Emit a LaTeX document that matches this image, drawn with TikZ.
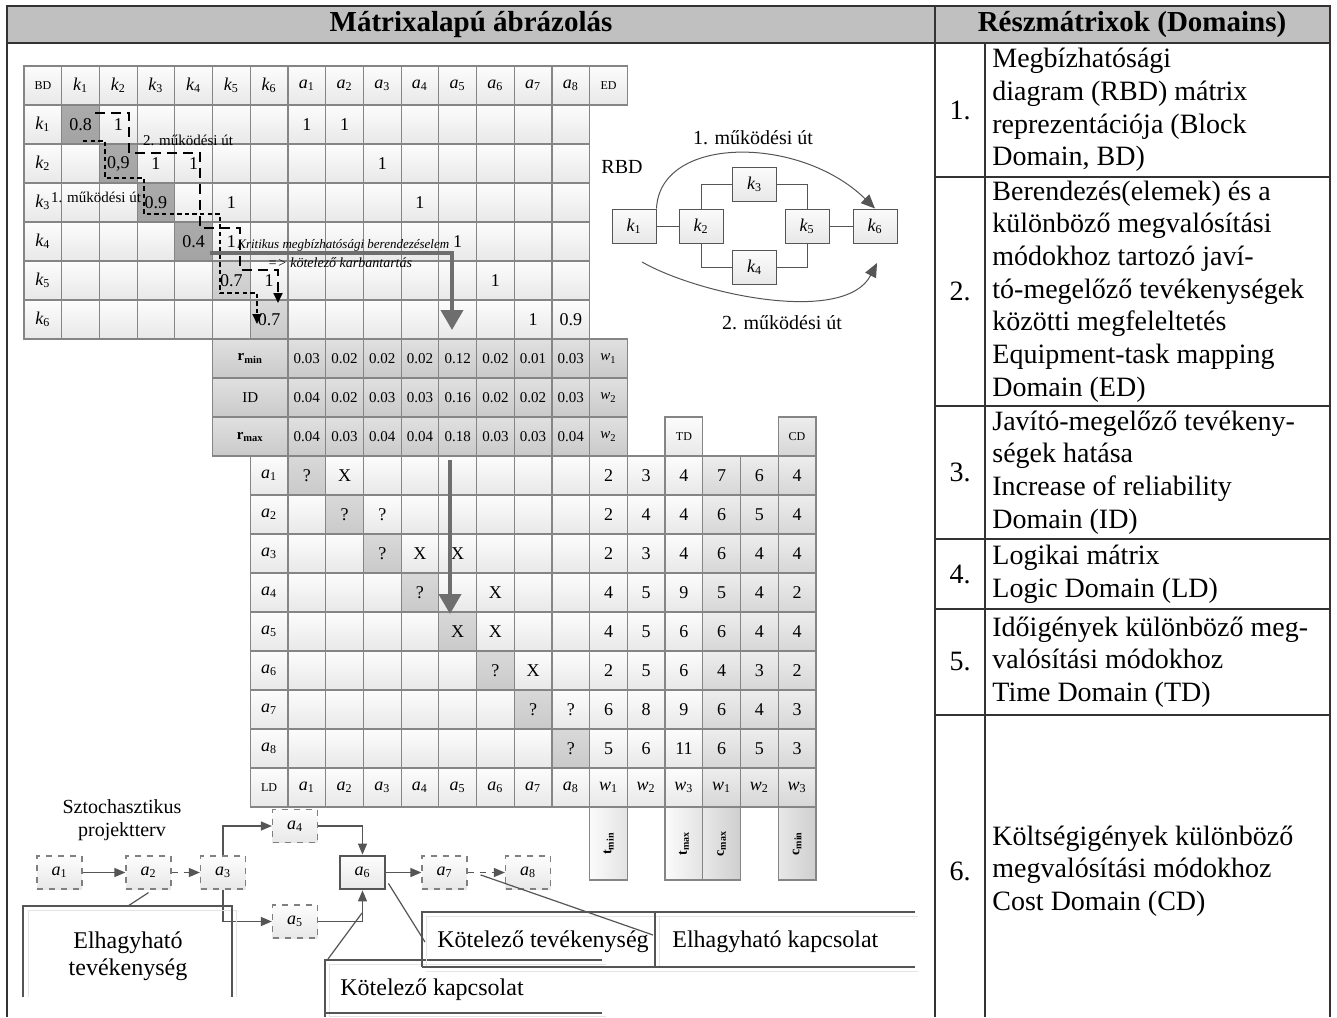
\documentclass[tikz,border=0pt]{standalone}
\usepackage{fontspec}
\setmainfont{Liberation Serif}
\usepackage{graphicx}
\usetikzlibrary{arrows.meta}
\definecolor{cellline}{HTML}{858585}
\definecolor{frameC}{HTML}{333333}
\definecolor{hdrC}{HTML}{C0C0C0}
\definecolor{bigarr}{HTML}{6E6E6E}
\definecolor{lineC}{HTML}{555555}
\definecolor{shadowC}{HTML}{E4E4E4}
\newcommand\Kk[1]{{\itshape k}\textsubscript{#1}}
\newcommand\Aa[1]{{\itshape a}\textsubscript{#1}}
\newcommand\Ww[1]{{\itshape w}\textsubscript{#1}}
\newcommand\C[4][]{\node[cell,#1] (m-#2-#3) at ({24+37.71*(#2+0.5)},{66+39*(#3+0.5)}) {#4};}
\tikzset{
  cstyle/.style={#1},
  cell/.style={draw=cellline, line width=0.6pt, minimum width=18.86pt, minimum height=19.5pt,
    inner sep=0pt, top color=gray!2, bottom color=gray!18, font=\fontsize{9}{10}\selectfont},
  cn/.style={},
  cd/.style={top color=gray!66, bottom color=gray!72},
  cl/.style={top color=gray!30, bottom color=gray!42},
  cg/.style={top color=gray!24, bottom color=gray!42},
  cc/.style={top color=gray!14, bottom color=gray!32},
  smallf/.style={font=\fontsize{7.5}{8}\selectfont},
  tinyf/.style={font=\fontsize{6}{7}\selectfont},
  stripT/.style={draw=cellline, line width=0.6pt, minimum width=18.86pt, minimum height=36.5pt,
    inner sep=0pt, left color=gray!3, right color=gray!22, font=\fontsize{7}{8}\selectfont},
  stripC/.style={stripT, left color=gray!18, right color=gray!38},
  frame/.style={draw=frameC, line width=1pt},
  rt/.style={anchor=west, inner sep=0pt, align=left, font=\fontsize{14}{16.35}\selectfont},
  rnum/.style={inner sep=0pt, font=\fontsize{14}{16.35}\selectfont},
  hdrtext/.style={inner sep=0pt, font=\bfseries\fontsize{14.5}{16}\selectfont},
  dpath1/.style={draw=black, line width=0.9pt, dash pattern=on 2.2pt off 1.6pt, -{Triangle[width=4.5pt,length=5pt]}},
  dpath2/.style={draw=black, line width=0.9pt, dash pattern=on 5pt off 3pt, -{Triangle[width=4.5pt,length=5pt]}},
  bigarrow/.style={draw=bigarr, line width=2pt, -{Triangle[width=11pt,length=10pt]}},
  rbdbox/.style={draw=lineC, line width=0.5pt, top color=gray!3, bottom color=gray!18,
    minimum width=22pt, minimum height=17pt, inner sep=0pt, font=\fontsize{9}{10}\selectfont},
  rbdline/.style={draw=lineC, line width=0.5pt},
  curvarr/.style={draw=lineC, line width=0.5pt, -{Triangle[width=6pt,length=7pt]}},
  lbl/.style={inner sep=0pt, font=\fontsize{10}{11}\selectfont},
  minilbl/.style={inner sep=0pt, font=\fontsize{7.5}{8}\selectfont},
  netbox/.style={draw=gray, dashed, line width=0.6pt, top color=gray!2, bottom color=gray!18,
    minimum width=22.5pt, minimum height=16.5pt, inner sep=0pt, font=\fontsize{9}{10}\selectfont},
  netmain/.style={netbox, solid, draw=lineC, line width=1.4pt},
  netarr/.style={draw=lineC, line width=0.6pt, -{Triangle[width=4.5pt,length=5.5pt]}},
  callout/.style={draw=lineC, line width=0.6pt},
  callshadow/.style={draw=shadowC, line width=0.5pt},
  calltext/.style={inner sep=0pt, font=\fontsize{12}{14}\selectfont},
}
\begin{document}
\begin{tikzpicture}[x=0.5pt,y=-0.5pt]
\useasboundingbox (0,0) rectangle (1337,1017);
\fill[white] (0,0) rectangle (1337,1017);
% ---------- frame ----------
\fill[hdrC] (7,6) rectangle (1330,43);
\draw[frame] (7,1017) -- (7,6) -- (1330,6) -- (1330,1017);
\draw[frame, line width=1.3pt] (7,43) -- (1330,43);
\draw[frame] (935,6) -- (935,1017);
\draw[frame] (985,43) -- (985,1017);
\foreach \yy in {177,406,539,609,715} {\draw[frame] (935,\yy) -- (1330,\yy);}
\node[hdrtext] (h1) at (471,25) {Mátrixalapú ábrázolás};
\node[hdrtext] (h2) at (1132,25) {Részmátrixok (Domains)};
% ---------- right table ----------
\node[rnum] (n1) at (960,110) {1.};
\node[rt] (r1) at (992,110) {Megbízhatósági\\diagram (RBD) mátrix\\reprezentációja (Block\\Domain, BD)};
\node[rnum] (n2) at (960,291.5) {2.};
\node[rt] (r2) at (992,291.5) {Berendezés(elemek) és a\\különböző megvalósítási\\módokhoz tartozó javí-\\tó-megelőző tevékenységek\\közötti megfeleltetés\\Equipment-task mapping\\Domain (ED)};
\node[rnum] (n3) at (960,472.5) {3.};
\node[rt] (r3) at (992,472.5) {Javító-megelőző tevékeny-\\ségek hatása\\Increase of reliability\\Domain (ID)};
\node[rnum] (n4) at (960,574) {4.};
\node[rt] (r4) at (992,574) {Logikai mátrix\\Logic Domain (LD)};
\node[rnum] (n5) at (960,662) {5.};
\node[rt] (r5) at (992,662) {Időigények különböző meg-\\valósítási módokhoz\\Time Domain (TD)};
\node[rnum] (n6) at (960,871) {6.};
\node[rt] (r6) at (992,871) {Költségigények különböző\\megvalósítási módokhoz\\Cost Domain (CD)};
% ---------- BD / ED matrix ----------
\C[tinyf]{0}{0}{BD}
\foreach \t [count=\c from 1] in {1,...,6} {\C{\c}{0}{\Kk{\t}}}
\foreach \t [count=\c from 7] in {1,...,8} {\C{\c}{0}{\Aa{\t}}}
\C[tinyf]{15}{0}{ED}
\foreach \s/\t [count=\c from 0] in {cn/\Kk{1}, cd/0.8, cn/1, cn/{}, cn/{}, cn/{}, cn/{}, cn/1, cn/1, cn/{}, cn/{}, cn/{}, cn/{}, cn/{}, cn/{}}
  {\C[cstyle/.expand once=\s]{\c}{1}{\t}}
\foreach \s/\t [count=\c from 0] in {cn/\Kk{2}, cn/{}, cd/{0,9}, cn/1, cn/1, cn/{}, cn/{}, cn/{}, cn/{}, cn/1, cn/{}, cn/{}, cn/{}, cn/{}, cn/{}}
  {\C[cstyle/.expand once=\s]{\c}{2}{\t}}
\foreach \s/\t [count=\c from 0] in {cn/\Kk{3}, cn/{}, cn/{}, cd/0.9, cn/{}, cn/1, cn/{}, cn/{}, cn/{}, cn/{}, cn/1, cn/{}, cn/{}, cn/{}, cn/{}}
  {\C[cstyle/.expand once=\s]{\c}{3}{\t}}
\foreach \s/\t [count=\c from 0] in {cn/\Kk{4}, cn/{}, cn/{}, cn/{}, cd/0.4, cn/1, cn/{}, cn/{}, cn/{}, cn/{}, cn/{}, cn/1, cn/{}, cn/{}, cn/{}}
  {\C[cstyle/.expand once=\s]{\c}{4}{\t}}
\foreach \s/\t [count=\c from 0] in {cn/\Kk{5}, cn/{}, cn/{}, cn/{}, cn/{}, cl/0.7, cn/1, cn/{}, cn/{}, cn/{}, cn/{}, cn/{}, cn/1, cn/{}, cn/{}}
  {\C[cstyle/.expand once=\s]{\c}{5}{\t}}
\foreach \s/\t [count=\c from 0] in {cn/\Kk{6}, cn/{}, cn/{}, cn/{}, cn/{}, cn/{}, cl/0.7, cn/{}, cn/{}, cn/{}, cn/{}, cn/{}, cn/{}, cn/1, cn/0.9}
  {\C[cstyle/.expand once=\s]{\c}{6}{\t}}
% ---------- ID block ----------
\node[cell,cg,smallf,minimum width=37.71pt] (idl1) at ({24+37.71*6},{66+39*7.5}) {\textbf{r}\textsubscript{\textbf{min}}};
\node[cell,cg,smallf,minimum width=37.71pt] (idl2) at ({24+37.71*6},{66+39*8.5}) {ID};
\node[cell,cg,smallf,minimum width=37.71pt] (idl3) at ({24+37.71*6},{66+39*9.5}) {\textbf{r}\textsubscript{\textbf{max}}};
\foreach \v [count=\c from 7] in {0.03,0.02,0.02,0.02,0.12,0.02,0.01,0.03} {\C[cg,smallf]{\c}{7}{\v}}
\foreach \v [count=\c from 7] in {0.04,0.02,0.03,0.03,0.16,0.02,0.02,0.03} {\C[cg,smallf]{\c}{8}{\v}}
\foreach \v [count=\c from 7] in {0.04,0.03,0.04,0.04,0.18,0.03,0.03,0.04} {\C[cg,smallf]{\c}{9}{\v}}
\C[cg,smallf]{15}{7}{\Ww{1}}
\C[cg,smallf]{15}{8}{\Ww{2}}
\C[cg,smallf]{15}{9}{\Ww{2}}
\C[tinyf]{17}{9}{TD}
\C[cc,tinyf]{20}{9}{CD}
% ---------- LD block ----------
\foreach \s/\t [count=\c from 6] in {cn/\Aa{1}, cl/?, cn/X, cn/{}, cn/{}, cn/{}, cn/{}, cn/{}, cn/{}, cn/2, cn/3, cn/4, cc/7, cc/6, cc/4}
  {\C[cstyle/.expand once=\s]{\c}{10}{\t}}
\foreach \s/\t [count=\c from 6] in {cn/\Aa{2}, cn/{}, cl/?, cn/?, cn/{}, cn/{}, cn/{}, cn/{}, cn/{}, cn/2, cn/4, cn/4, cc/6, cc/5, cc/4}
  {\C[cstyle/.expand once=\s]{\c}{11}{\t}}
\foreach \s/\t [count=\c from 6] in {cn/\Aa{3}, cn/{}, cn/{}, cl/?, cn/X, cn/X, cn/{}, cn/{}, cn/{}, cn/2, cn/3, cn/4, cc/6, cc/4, cc/4}
  {\C[cstyle/.expand once=\s]{\c}{12}{\t}}
\foreach \s/\t [count=\c from 6] in {cn/\Aa{4}, cn/{}, cn/{}, cn/{}, cl/?, cn/{}, cn/X, cn/{}, cn/{}, cn/4, cn/5, cn/9, cc/5, cc/4, cc/2}
  {\C[cstyle/.expand once=\s]{\c}{13}{\t}}
\foreach \s/\t [count=\c from 6] in {cn/\Aa{5}, cn/{}, cn/{}, cn/{}, cn/{}, cl/X, cn/X, cn/{}, cn/{}, cn/4, cn/5, cn/6, cc/6, cc/4, cc/4}
  {\C[cstyle/.expand once=\s]{\c}{14}{\t}}
\foreach \s/\t [count=\c from 6] in {cn/\Aa{6}, cn/{}, cn/{}, cn/{}, cn/{}, cn/{}, cl/?, cn/X, cn/{}, cn/2, cn/5, cn/6, cc/4, cc/3, cc/2}
  {\C[cstyle/.expand once=\s]{\c}{15}{\t}}
\foreach \s/\t [count=\c from 6] in {cn/\Aa{7}, cn/{}, cn/{}, cn/{}, cn/{}, cn/{}, cn/{}, cl/?, cn/?, cn/6, cn/8, cn/9, cc/6, cc/4, cc/3}
  {\C[cstyle/.expand once=\s]{\c}{16}{\t}}
\foreach \s/\t [count=\c from 6] in {cn/\Aa{8}, cn/{}, cn/{}, cn/{}, cn/{}, cn/{}, cn/{}, cn/{}, cl/?, cn/5, cn/6, cn/11, cc/6, cc/5, cc/3}
  {\C[cstyle/.expand once=\s]{\c}{17}{\t}}
\C[tinyf]{6}{18}{LD}
\foreach \s/\t [count=\c from 7] in {cn/\Aa{1}, cn/\Aa{2}, cn/\Aa{3}, cn/\Aa{4}, cn/\Aa{5}, cn/\Aa{6}, cn/\Aa{7}, cn/\Aa{8}, cn/\Ww{1}, cn/\Ww{2}, cn/\Ww{3}, cc/\Ww{1}, cc/\Ww{2}, cc/\Ww{3}}
  {\C[cstyle/.expand once=\s]{\c}{18}{\t}}
% ---------- strips ----------
\node[stripT] (s1) at ({24+37.71*15.5},843.5) {\rotatebox{90}{\textbf{t}\textsubscript{\textbf{min}}}};
\node[stripT] (s2) at ({24+37.71*17.5},843.5) {\rotatebox{90}{\textbf{t}\textsubscript{\textbf{max}}}};
\node[stripC] (s3) at ({24+37.71*18.5},843.5) {\rotatebox{90}{\textbf{c}\textsubscript{\textbf{max}}}};
\node[stripC] (s4) at ({24+37.71*20.5},843.5) {\rotatebox{90}{\textbf{c}\textsubscript{\textbf{min}}}};
% ---------- annotations in BD ----------
\node[minilbl] (p2lbl) at (188,140) {2. működési út};
\node[minilbl] (p1lbl) at (96,197) {1. működési út};
\node[minilbl, font=\itshape\fontsize{6.5}{7.5}\selectfont, anchor=west] (krit1) at (237,245) {Kritikus megbízhatósági berendezéselem};
\node[minilbl, font=\itshape\fontsize{7}{8}\selectfont] (krit2) at (340,263) {=> kötelező karbantartás};
\coordinate (p1s) at (83,141);
\coordinate (p1e) at (257,324);
\draw[dpath1] (p1s) -- (105,141) -- (105,178) -- (144,178) -- (144,214) -- (220,214) -- (220,293) -- (257,293) -- (p1e);
\coordinate (p2s) at (95,113);
\coordinate (p2e) at (278,303);
\draw[dpath2] (p2s) -- (129,113) -- (129,153) -- (200,153) -- (200,228) -- (240,228) -- (240,270) -- (278,270) -- (p2e);
\coordinate (g1s) at (210,253);
\coordinate (g1e) at (452,330);
\draw[bigarrow] (g1s) -- (452,253) -- (g1e);
\coordinate (g2s) at (450,460);
\coordinate (g2e) at (450,614);
\draw[bigarrow] (g2s) -- (g2e);
% ---------- RBD ----------
\node[lbl] (rbd) at (622,167) {RBD};
\node[rbdbox] (rk1) at (634,226) {\Kk{1}};
\node[rbdbox] (rk2) at (701,226) {\Kk{2}};
\node[rbdbox] (rk3) at (754.5,184) {\Kk{3}};
\node[rbdbox] (rk4) at (754.5,267.5) {\Kk{4}};
\node[rbdbox] (rk5) at (807,226) {\Kk{5}};
\node[rbdbox] (rk6) at (875,226) {\Kk{6}};
\draw[rbdline] (rk1) -- (rk2);
\draw[rbdline] (rk2.north) |- (rk3.west);
\draw[rbdline] (rk3.east) -| (rk5.north);
\draw[rbdline] (rk2.south) |- (rk4.west);
\draw[rbdline] (rk4.east) -| (rk5.south);
\draw[rbdline] (rk5) -- (rk6);
\draw[curvarr] (rk1.north east) .. controls (660,135) and (800,135) .. (rk6.north);
\coordinate (c2s) at (642,262);
\coordinate (c2e) at (877,263);
\draw[curvarr] (c2s) .. controls (700,295) and (845,325) .. (c2e);
\node[lbl] (l1) at (753,138) {1. működési út};
\node[lbl] (l2) at (782,323) {2. működési út};
% ---------- network ----------
\node[lbl] (sz1) at (122,807) {Sztochasztikus};
\node[lbl] (sz2) at (122,832) {projektterv};
\node[netbox] (a1) at (59.5,872.5) {\Aa{1}};
\node[netbox] (a2) at (148.5,872.5) {\Aa{2}};
\node[netbox] (a3) at (223,872.5) {\Aa{3}};
\node[netbox] (a4) at (295,826) {\Aa{4}};
\node[netbox] (a5) at (295,921.5) {\Aa{5}};
\node[netmain] (a6) at (362.5,872.5) {\Aa{6}};
\node[netbox] (a7) at (444.5,872.5) {\Aa{7}};
\node[netbox] (a8) at (528,872.5) {\Aa{8}};
\draw[netarr] (a1) -- (a2);
\draw[netarr, dashed] (a2) -- (a3);
\draw[netarr] (a3.north) |- (a4.west);
\draw[netarr] (a3.south) |- (a5.west);
\draw[netarr] (a4.east) -| (a6.north);
\draw[netarr] (a5.east) -| (a6.south);
\draw[netarr] (a6) -- (a7);
\draw[netarr, dashed] (a7) -- (a8);
% ---------- callouts ----------
% Elhagyható tevékenység
\draw[callshadow] (28,997) -- (28,910) -- (236,910) -- (236,997);
\draw[callout] (23,997) -- (23,906) -- (232,906) -- (232,997);
\node[calltext] (ct1) at (128,943) {Elhagyható};
\node[calltext] (ct2) at (128,970) {tevékenység};
\coordinate (pt1) at (128,906);
\draw[callout] ([yshift=-1.5pt]a2.south) -- (pt1);
% Kötelező kapcsolat
\draw[callshadow] (329,1017) -- (329,964) -- (606,964);
\draw[callshadow] (329,1016) -- (606,1016);
\draw[callout] (602,960) -- (325,960) -- (325,1017);
\draw[callout] (325,1013) -- (602,1013);
\node[calltext, anchor=west] (ct3) at (340,990) {Kötelező kapcsolat};
\coordinate (pt3a) at (362,913);
\coordinate (pt3b) at (328,959);
\draw[callout] (pt3a) -- (pt3b);
% Kötelező tevékenység / Elhagyható kapcsolat
\draw[callshadow] (426,967) -- (426,916) -- (918,916);
\draw[callshadow] (426,971) -- (918,971);
\draw[callshadow] (659,916) -- (659,967);
\draw[callout] (422,967) -- (422,912) -- (915,912);
\draw[callout] (422,967) -- (915,967);
\draw[callout] (655,912) -- (655,967);
\node[calltext, anchor=west] (ct4) at (437,942) {Kötelező tevékenység};
\node[calltext, anchor=west] (ct5) at (672,942) {Elhagyható kapcsolat};
\coordinate (pt4) at (425,942);
\coordinate (pt5) at (653,935);
\draw[callout] ([shift={(1pt,3.5pt)}]a6.south east) -- (pt4);
\draw[callout] ([shift={(6.5pt,-1.2pt)}]a7.east) -- (pt5);
\end{tikzpicture}
\end{document}
